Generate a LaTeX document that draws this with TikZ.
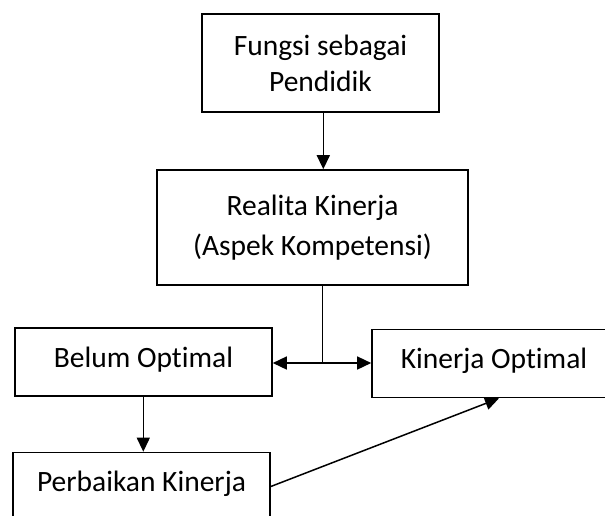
\documentclass[tikz,border=0pt]{standalone}
\usepackage{fontspec}
\setmainfont{Carlito}[Ligatures=CommonOff]
\usetikzlibrary{arrows.meta}
\begin{document}
\begin{tikzpicture}[x=1pt,y=-1pt,
  box/.style={draw=black,line width=1.6pt,rectangle,inner sep=0pt,align=center,
    font=\fontsize{29.5}{36}\selectfont},
  arr/.style={line width=1.5pt,-{Triangle[length=14pt,width=13pt]}},
  ln/.style={line width=1.3pt}]
\useasboundingbox (0,0) rectangle (605,515);
\clip (0,0) rectangle (605,515);
\fill[white] (0,0) rectangle (605,515);
\node[box,minimum width=237pt,minimum height=98pt,text depth=0pt] (b1) at (320.5,63) {Fungsi sebagai\\Pendidik};
\node[box,minimum width=311pt,minimum height=115pt,font=\fontsize{29.5}{40}\selectfont] (b2) at (312.5,227.5) {Realita Kinerja\\(Aspek Kompetensi)};
\node[box,minimum width=257pt,minimum height=68pt,text depth=10pt] (bo) at (143.5,362) {Belum Optimal};
\node[box,minimum width=244pt,minimum height=68pt,text depth=10pt] (ko) at (494,363.5) {Kinerja Optimal};
\node[box,minimum width=257pt,minimum height=68pt,text depth=10pt] (pk) at (141.5,486.5) {Perbaikan Kinerja};
\coordinate (j) at (322.7,363);
\draw[arr] ([xshift=2.8pt]b1.south) -- ([xshift=2.8pt]b1.south |- b2.north);
\draw[ln] (b2.south -| j) -- (j);
\draw[arr] (j) -- (j -| bo.east);
\draw[arr] (j) -- (j -| ko.west);
\draw[arr,line width=1.3pt] ([xshift=-0.2pt]bo.south) -- ([xshift=-0.2pt]bo.south |- pk.north);
\draw[arr,line width=1.5pt] (pk.east) -- ([xshift=5pt]ko.south);
\end{tikzpicture}
\end{document}
